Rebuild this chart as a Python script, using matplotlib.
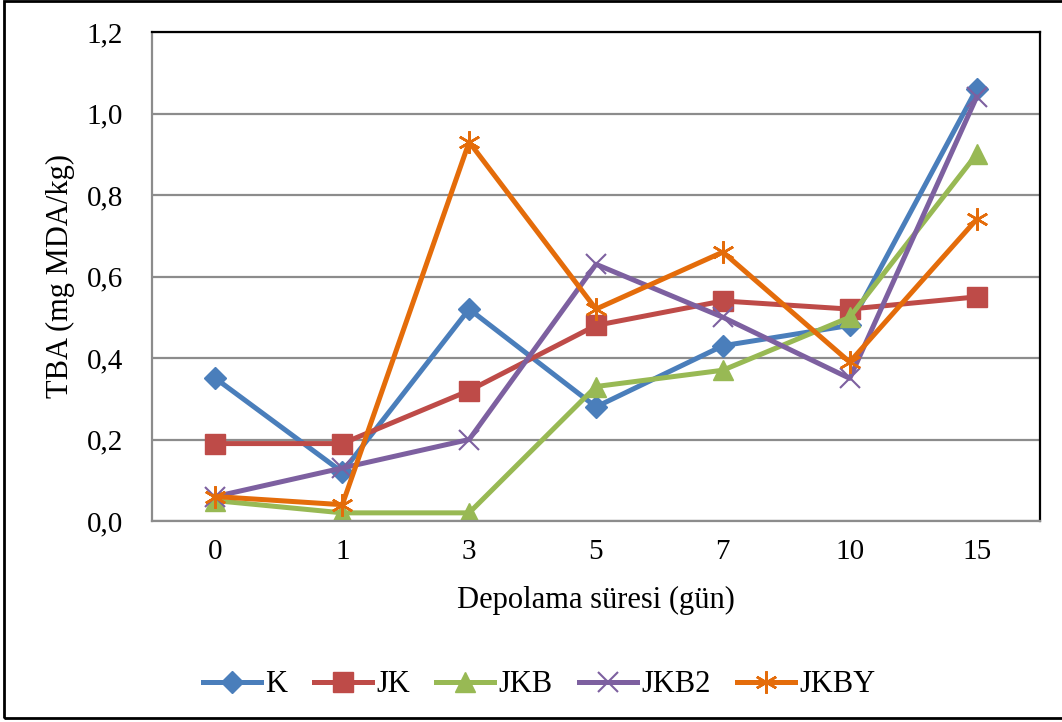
import matplotlib.pyplot as plt
from matplotlib.patches import Rectangle

days = ["0", "1", "3", "5", "7", "10", "15"]

k = [0.35, 0.12, 0.52, 0.28, 0.43, 0.48, 1.06]
jk = [0.19, 0.19, 0.32, 0.48, 0.54, 0.52, 0.55]
jkb = [0.05, 0.02, 0.02, 0.33, 0.37, 0.50, 0.90]
jkb2 = [0.06, 0.13, 0.20, 0.63, 0.50, 0.35, 1.04]
jkby = [0.06, 0.04, 0.93, 0.52, 0.66, 0.39, 0.74]

plt.rcParams["font.family"] = ["Liberation Serif", "DejaVu Serif"]

fig = plt.figure(figsize=(10.62, 7.22), dpi=100)
ax = fig.add_axes([152 / 1062, 201 / 722, 888 / 1062, 489 / 722])

x = list(range(len(days)))
lw = 3.6
ax.plot(x, k, color="#4a7ebb", lw=lw, marker="D", ms=11, label="K")
ax.plot(x, jk, color="#be4b48", lw=lw, marker="s", ms=14, label="JK")
ax.plot(x, jkb, color="#98b954", lw=lw, marker="^", ms=15, label="JKB")
ax.plot(x, jkb2, color="#7d60a0", lw=lw, marker="x", ms=14, mew=1.5, label="JKB2")
ax.plot(x, jkby, color="#e46c0a", lw=lw, marker=(6, 2, 0), ms=16, mew=1.8, label="JKBY")

ax.set_xlim(-0.5, len(days) - 0.5)
ax.set_ylim(0, 1.2)
ax.set_xticks(x)
ax.set_xticklabels(days)
yt = [0, 0.2, 0.4, 0.6, 0.8, 1.0, 1.2]
ax.set_yticks(yt)
ax.set_yticklabels([f"{v:.1f}".replace(".", ",") for v in yt])
ax.tick_params(length=0, labelsize=21)
ax.tick_params(axis="y", pad=21)
ax.tick_params(axis="x", pad=13)
ax.yaxis.grid(True, color="#8c8c8c", lw=1.6)
ax.set_axisbelow(True)

for s in ["left", "bottom"]:
    ax.spines[s].set_color("#8c8c8c")
    ax.spines[s].set_linewidth(1.6)
for s in ["top", "right"]:
    ax.spines[s].set_color("black")
    ax.spines[s].set_linewidth(1.6)

ax.set_xlabel("Depolama süresi (gün)", fontsize=22, labelpad=15)
ax.set_ylabel("TBA (mg MDA/kg)", fontsize=22, labelpad=8)

ax.legend(loc="center", bbox_to_anchor=(0.436, -0.335), ncol=5, frameon=False,
          fontsize=22, handlelength=1.9, handletextpad=0.14, columnspacing=0.86)

fig.patches.append(Rectangle((4 / 1062, 4 / 722), 1.1, 1 - 5 / 722, transform=fig.transFigure,
                             fill=False, edgecolor="black", lw=2))

fig.savefig("out.png", dpi=100)
